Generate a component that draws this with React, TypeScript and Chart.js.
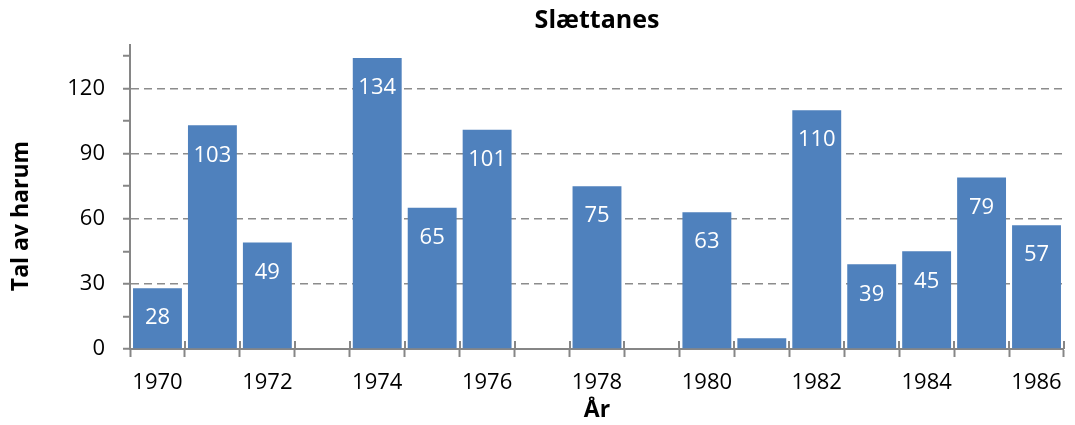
import React, { useEffect, useRef } from 'react';
import { Chart, registerables } from 'chart.js';

Chart.register(...registerables);

const YEARS = ['1970', '1971', '1972', '1973', '1974', '1975', '1976', '1977', '1978', '1979', '1980', '1981', '1982', '1983', '1984', '1985', '1986'];
const HARUM: (number | null)[] = [28, 103, 49, null, 134, 65, 101, null, 75, null, 63, 5, 110, 39, 45, 79, 57];
const Y_MAX = 140;
const Y_STEP = 15;
const Y_LABEL_STEP = 30;
const TITLE = 'Slættanes';
const X_TITLE = 'År';
const Y_TITLE = 'Tal av harum';

const FONT = "'Open Sans', 'Noto Sans', sans-serif";
const BAR_COLOR = '#4F81BD';
const AXIS_COLOR = '#868686';
const GRID_COLOR = '#8c8c8c';

const barLabelPlugin = {
  id: 'barLabels',
  afterDatasetsDraw(chart: any) {
    const ctx = chart.ctx;
    const meta = chart.getDatasetMeta(0);
    ctx.save();
    ctx.font = `22px ${FONT}`;
    ctx.fillStyle = '#ffffff';
    ctx.textAlign = 'center';
    ctx.textBaseline = 'middle';
    meta.data.forEach((el: any, i: number) => {
      const v = HARUM[i];
      if (v === null || v === undefined) return;
      const h = el.base - el.y;
      if (h < 40) return;
      ctx.fillText(String(v), el.x, el.y + 30);
    });
    ctx.restore();
  },
};

const innerTickPlugin = {
  id: 'innerTicks',
  afterDatasetsDraw(chart: any) {
    const ctx = chart.ctx;
    const xs = chart.scales.x;
    const y0 = chart.chartArea.bottom;
    ctx.save();
    ctx.strokeStyle = AXIS_COLOR;
    ctx.lineWidth = 2;
    for (let i = 0; i <= YEARS.length; i++) {
      const px = Math.round(xs.getPixelForValue(i - 0.5));
      ctx.beginPath();
      ctx.moveTo(px, y0 - 8);
      ctx.lineTo(px, y0);
      ctx.stroke();
    }
    ctx.restore();
  },
};

const yTitlePlugin = {
  id: 'yTitle',
  afterDraw(chart: any) {
    const ctx = chart.ctx;
    const { top, bottom } = chart.chartArea;
    ctx.save();
    ctx.translate(21, (top + bottom) / 2 + 19);
    ctx.rotate(-Math.PI / 2);
    ctx.font = `bold 23px ${FONT}`;
    ctx.fillStyle = '#000000';
    ctx.textAlign = 'center';
    ctx.textBaseline = 'middle';
    ctx.fillText(Y_TITLE, 0, 0);
    ctx.restore();
  },
};

export default function App() {
  const canvasRef = useRef<HTMLCanvasElement | null>(null);

  useEffect(() => {
    if (!canvasRef.current) return;
    const chart = new Chart(canvasRef.current, {
      type: 'bar',
      data: {
        labels: YEARS,
        datasets: [
          {
            label: Y_TITLE,
            data: HARUM,
            backgroundColor: BAR_COLOR,
            borderWidth: 0,
            barPercentage: 0.89,
            categoryPercentage: 1,
          },
        ],
      },
      options: {
        animation: false,
        responsive: true,
        maintainAspectRatio: false,
        layout: { padding: { left: 0, right: 10, top: 0, bottom: 0 } },
        plugins: {
          legend: { display: false },
          tooltip: { enabled: false },
          title: {
            display: true,
            text: TITLE,
            fullSize: false,
            color: '#000000',
            font: { family: FONT, size: 25, weight: 'bold', lineHeight: 1.2 },
            padding: { top: 6, bottom: 9 },
          },
        },
        scales: {
          x: {
            type: 'category',
            offset: true,
            grid: {
              display: true,
              offset: true,
              drawOnChartArea: false,
              drawTicks: true,
              tickLength: 8,
              tickColor: AXIS_COLOR,
              tickWidth: 2,
            },
            border: { display: true, color: AXIS_COLOR, width: 2 },
            ticks: {
              autoSkip: false,
              maxRotation: 0,
              padding: 13,
              color: '#000000',
              font: { family: FONT, size: 22 },
              callback: (_v: any, i: number) => (i % 2 === 0 ? YEARS[i] : ''),
            },
            title: {
              display: true,
              text: X_TITLE,
              color: '#000000',
              font: { family: FONT, size: 23, weight: 'bold', lineHeight: 1.2 },
              padding: { top: 0, bottom: 1 },
            },
            afterFit: (scale: any) => {
              scale.height = 76;
            },
          },
          y: {
            type: 'linear',
            min: 0,
            max: Y_MAX,
            grid: {
              display: true,
              drawTicks: true,
              tickLength: 7,
              lineWidth: 1.5,
              color: (ctx: any) => {
                const v = ctx.tick ? ctx.tick.value : 0;
                return v > 0 && v % Y_LABEL_STEP === 0 ? GRID_COLOR : 'rgba(0,0,0,0)';
              },
              tickColor: (ctx: any) => {
                const v = ctx.tick ? ctx.tick.value : 0;
                return v % Y_STEP === 0 ? AXIS_COLOR : 'rgba(0,0,0,0)';
              },
              tickWidth: 2,
            },
            border: { display: true, color: AXIS_COLOR, width: 2, dash: [8, 5] },
            ticks: {
              stepSize: Y_STEP,
              includeBounds: false,
              padding: 18,
              color: '#000000',
              font: { family: FONT, size: 22 },
              callback: (v: any) => (Number(v) % Y_LABEL_STEP === 0 ? String(v) : ''),
            },
            afterFit: (scale: any) => {
              scale.width = 130;
            },
          },
        },
      },
      plugins: [barLabelPlugin, innerTickPlugin, yTitlePlugin],
    } as any);
    return () => chart.destroy();
  }, []);

  return (
    <div style={{ position: 'absolute', left: 0, top: 0, width: 1075, height: 425, background: '#ffffff' }}>
      <canvas ref={canvasRef} />
    </div>
  );
}
